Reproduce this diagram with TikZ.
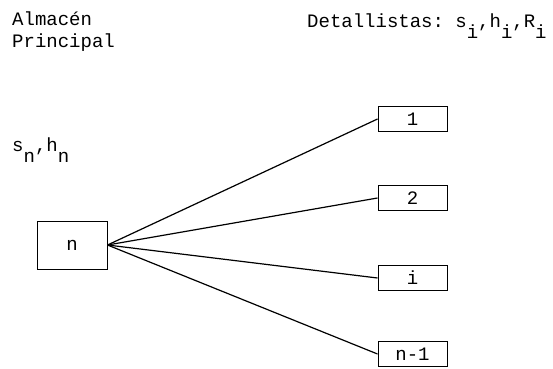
\documentclass[tikz,border=0pt]{standalone}
\usepackage{fontspec}
\setmonofont{Liberation Mono}
\newcommand{\lowsub}[1]{\raisebox{-11pt}{#1}}

\begin{document}
\begin{tikzpicture}[x=1pt, y=1pt, font=\ttfamily\fontsize{19}{22}\selectfont,
        store/.style = {draw, line width=1pt, minimum width=70pt, minimum height=48pt, inner sep=0pt},
        shop/.style = {draw, line width=1pt, minimum width=69pt, minimum height=25pt, inner sep=0pt},
        lbl/.style = {anchor=base west, inner sep=0pt, align=left}]
        \useasboundingbox (0,0) rectangle (553,368);
        \node[lbl] (almacen) at (12,321) {Almacén\\Principal};
        \node[lbl] (detall) at (307,341) {Detallistas: s\lowsub{i},h\lowsub{i},R\lowsub{i}};
        \node[lbl] (costn) at (12,217) {s\lowsub{n},h\lowsub{n}};
        \node[store] (n) at (72,123) {n};
        \node[shop] (1) at (412.5,249) {1};
        \node[shop] (2) at (412.5,170) {2};
        \node[shop] (i) at (412.5,90) {i};
        \node[shop] (m) at (412.5,14) {n-1};
        \draw[line width=1.2pt] (n.east) -- (1.west);
        \draw[line width=1.2pt] (n.east) -- (2.west);
        \draw[line width=1.2pt] (n.east) -- (i.west);
        \draw[line width=1.2pt] (n.east) -- (m.west);
    \end{tikzpicture}
\end{document}
